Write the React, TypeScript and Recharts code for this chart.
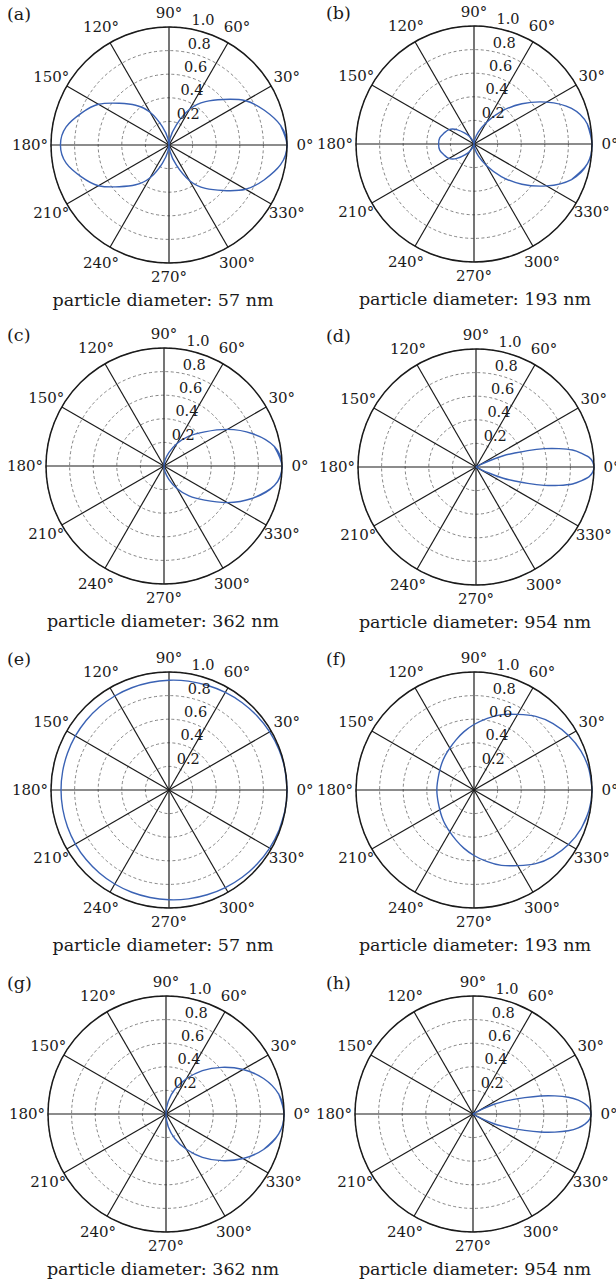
import React from "react";
import { RadarChart, Radar, PolarGrid, PolarAngleAxis, PolarRadiusAxis, Curve } from "recharts";

const FONT = "'DejaVu Serif', serif";
const LINE_BLUE = "#3a62b4";

// angular ticks (deg) and radial ticks
const angleTicks = [0, 30, 60, 90, 120, 150, 180, 210, 240, 270, 300, 330];
const radiusTicks = [0, 0.2, 0.4, 0.6, 0.8, 1.0];

// normalized intensity, upper half 0°..180°.
// every curve is symmetric about the 0°–180° line, so the lower half is mirrored.
const anglesStep10 = [0, 10, 20, 30, 40, 50, 60, 70, 80, 90, 100, 110, 120, 130, 140, 150, 160, 170, 180];
const anglesFwd10 = [0, 10, 20, 30, 40, 50, 60, 70, 80, 90, 180];

const valuesA = [1.0, 0.96, 0.86, 0.75, 0.6, 0.48, 0.35, 0.18, 0.06, 0, 0.055, 0.165, 0.32, 0.44, 0.55, 0.69, 0.79, 0.885, 0.92];
const valuesB = [1.0, 0.975, 0.88, 0.71, 0.53, 0.36, 0.21, 0.11, 0.04, 0, 0.01, 0.03, 0.07, 0.12, 0.19, 0.245, 0.27, 0.295, 0.3];
const valuesC = [1.0, 0.95, 0.8, 0.62, 0.45, 0.33, 0.22, 0.12, 0.05, 0, 0];

const anglesD = [0, 2.5, 5, 7.5, 10, 12.5, 15, 17.5, 20, 22.5, 25, 27.5, 30, 90, 180];
const valuesD = [1.0, 0.99, 0.96, 0.9, 0.83, 0.72, 0.6, 0.46, 0.34, 0.25, 0.12, 0.03, 0, 0, 0];

const valuesE = [1.0, 0.998, 0.993, 0.985, 0.975, 0.965, 0.955, 0.945, 0.937, 0.93, 0.925, 0.922, 0.92, 0.918, 0.917, 0.916, 0.915, 0.915, 0.915];
const valuesF = [1.0, 0.99, 0.965, 0.925, 0.875, 0.815, 0.74, 0.68, 0.615, 0.555, 0.5, 0.45, 0.41, 0.38, 0.355, 0.335, 0.322, 0.316, 0.315];
const valuesG = [1.0, 0.97, 0.88, 0.755, 0.615, 0.48, 0.345, 0.225, 0.11, 0, 0];

const anglesH = [0, 2.5, 5, 7.5, 10, 12.5, 15, 17.5, 20, 22.5, 25, 27.5, 30, 32.5, 90, 180];
const valuesH = [1.0, 0.99, 0.955, 0.9, 0.82, 0.71, 0.59, 0.46, 0.355, 0.27, 0.19, 0.1, 0.03, 0, 0, 0];

type Panel = {
  tag: string;
  caption: string;
  angles: number[];
  values: number[];
  cx: number; // circle centre on the page
  cy: number;
  capX: number;
};

const panels: Panel[] = [
  { tag: "(a)", caption: "particle diameter: 57 nm", angles: anglesStep10, values: valuesA, cx: 169, cy: 145, capX: 163 },
  { tag: "(b)", caption: "particle diameter: 193 nm", angles: anglesStep10, values: valuesB, cx: 474, cy: 144, capX: 475 },
  { tag: "(c)", caption: "particle diameter: 362 nm", angles: anglesFwd10, values: valuesC, cx: 164, cy: 466, capX: 163 },
  { tag: "(d)", caption: "particle diameter: 954 nm", angles: anglesD, values: valuesD, cx: 476, cy: 467, capX: 475 },
  { tag: "(e)", caption: "particle diameter: 57 nm", angles: anglesStep10, values: valuesE, cx: 169, cy: 790, capX: 163 },
  { tag: "(f)", caption: "particle diameter: 193 nm", angles: anglesStep10, values: valuesF, cx: 474, cy: 790, capX: 475 },
  { tag: "(g)", caption: "particle diameter: 362 nm", angles: anglesFwd10, values: valuesG, cx: 166, cy: 1114, capX: 163 },
  { tag: "(h)", caption: "particle diameter: 954 nm", angles: anglesH, values: valuesH, cx: 473, cy: 1114, capX: 475 },
];

const R = 118;
const BOX = 340;

function buildRows(angles: number[], values: number[]) {
  const rows = angles.map((a, i) => ({ angle: a, r: values[i] }));
  // mirror the upper half into 180°..360°
  for (let i = angles.length - 2; i > 0; i--) {
    rows.push({ angle: 360 - angles[i], r: values[i] });
  }
  return rows;
}

// draw the radar points as a smooth closed spline instead of a polygon
function SmoothShape(props: any) {
  const src: { x: number; y: number }[] = props.points || [];
  const pts: { x: number; y: number }[] = [];
  for (const p of src) {
    const last = pts[pts.length - 1];
    if (!last || Math.hypot(p.x - last.x, p.y - last.y) > 0.5) pts.push({ x: p.x, y: p.y });
  }
  if (pts.length > 2 && Math.hypot(pts[0].x - pts[pts.length - 1].x, pts[0].y - pts[pts.length - 1].y) < 0.5) pts.pop();
  const n = pts.length;
  if (n < 3) return <g />;
  const ring = [pts[n - 2], pts[n - 1], ...pts, pts[0], pts[1]];
  return <Curve type="natural" points={ring} stroke={LINE_BLUE} strokeWidth={1.4} fill="none" />;
}

function AngleTick(props: any) {
  const { x, y, payload } = props;
  const v = Number(payload.value);
  // labels straight above / below sit a little closer to the rim
  const dy = v === 90 ? 4 : v === 270 ? -4 : 0;
  const dx = v === 180 ? -3 : 0;
  return (
    <text x={x + dx} y={y + dy} textAnchor="middle" dominantBaseline="central" fontSize={15} fontFamily={FONT} fill="#1a1a1a">
      {`${v}°`}
    </text>
  );
}

function RadiusTick(props: any) {
  const { x, y, payload } = props;
  if (!payload || Number(payload.value) === 0) return <g />;
  return (
    <text x={x + 4} y={y - 8} textAnchor="start" dominantBaseline="central" fontSize={14.5} fontFamily={FONT} fill="#1a1a1a">
      {Number(payload.value).toFixed(1)}
    </text>
  );
}

function PolarPanel({ p }: { p: Panel }) {
  const rows = buildRows(p.angles, p.values);
  const left = p.cx - BOX / 2;
  const top = p.cy - BOX / 2;
  const tagLeft = p.cx < 308 ? 7 : 326;
  return (
    <>
      <div style={{ position: "absolute", left, top, width: BOX, height: BOX }}>
        <RadarChart width={BOX} height={BOX} data={rows} cx={BOX / 2} cy={BOX / 2} outerRadius={R} startAngle={0} endAngle={360}>
          <PolarGrid gridType="circle" radialLines={false} stroke="#666" strokeWidth={0.8} strokeDasharray="3 2.5" />
          <PolarGrid gridType="circle" polarRadius={[]} radialLines stroke="#1a1a1a" strokeWidth={1.2} />
          <PolarAngleAxis
            dataKey="angle"
            type="number"
            domain={[0, 360]}
            ticks={angleTicks}
            tickSize={18}
            tickLine={false}
            axisLineType="circle"
            stroke="#1a1a1a"
            axisLine={{ stroke: "#1a1a1a", strokeWidth: 1.5 }}
            tick={AngleTick}
          />
          <PolarRadiusAxis
            angle={81}
            type="number"
            domain={[0, 1]}
            ticks={radiusTicks}
            tickCount={6}
            axisLine={false}
            tickLine={false}
            tick={RadiusTick}
          />
          <Radar dataKey="r" stroke={LINE_BLUE} fill="none" shape={SmoothShape} dot={false} isAnimationActive={false} />
        </RadarChart>
      </div>
      <div style={{ position: "absolute", left: tagLeft, top: p.cy - 139, fontSize: 17.5, lineHeight: 1, fontFamily: FONT, color: "#1a1a1a" }}>
        {p.tag}
      </div>
      <div
        style={{
          position: "absolute",
          left: p.capX - 150,
          width: 300,
          top: p.cy + 162 - 15,
          textAlign: "center",
          fontSize: 17.5,
          lineHeight: 1,
          fontFamily: FONT,
          color: "#1a1a1a",
          whiteSpace: "nowrap",
        }}
      >
        {p.caption}
      </div>
    </>
  );
}

export default function App() {
  return (
    <div style={{ position: "absolute", left: 0, top: 0, width: 616, height: 1284, background: "#fff", overflow: "hidden" }}>
      {panels.map((p) => (
        <PolarPanel key={p.tag} p={p} />
      ))}
    </div>
  );
}
